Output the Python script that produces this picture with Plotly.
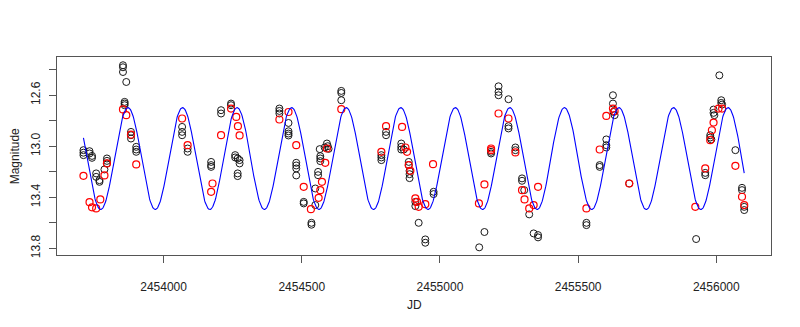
import numpy as np
import plotly.graph_objects as go

# ---- data ----
black_jd = [2453710, 2453710, 2453710, 2453732, 2453732, 2453741, 2453741,
            2453756, 2453756, 2453768, 2453768, 2453786, 2453795, 2453795, 2453795,
            2453853, 2453853, 2453853, 2453865, 2453859, 2453859, 2453859,
            2453882, 2453882, 2453882, 2453901, 2453901, 2453901,
            2454067, 2454067, 2454067, 2454087, 2454087,
            2454172, 2454172, 2454172, 2454208, 2454208, 2454244, 2454244,
            2454259, 2454259, 2454268, 2454275, 2454275, 2454268, 2454268,
            2454419, 2454419, 2454419, 2454452, 2454452, 2454452, 2454452,
            2454480, 2454480, 2454480, 2454480, 2454507, 2454507, 2454535, 2454535,
            2454549, 2454549, 2454559, 2454559, 2454567, 2454567, 2454567, 2454565,
            2454583, 2454591, 2454594, 2454597, 2454643, 2454643, 2454643,
            2454788, 2454788, 2454788, 2454805, 2454805,
            2454860, 2454860, 2454860, 2454869, 2454887, 2454887,
            2454890, 2454890, 2454890, 2454911, 2454911, 2454923, 2454947, 2454947,
            2454977, 2454977, 2455142, 2455161, 2455185, 2455185,
            2455212, 2455212, 2455212, 2455248, 2455248, 2455248, 2455273, 2455273,
            2455297, 2455297, 2455305, 2455323, 2455339, 2455355, 2455355,
            2455530, 2455530, 2455578, 2455578, 2455602, 2455602, 2455602,
            2455626, 2455626, 2455628, 2455632, 2455685, 2455927,
            2455960, 2455960, 2455978, 2455978, 2455982,
            2455990, 2455990, 2455993, 2456018, 2456018, 2456021, 2456011,
            2456069, 2456093, 2456093, 2456101, 2456101]
black_mag = [13.031, 13.051, 13.070, 13.039, 13.057, 13.076, 13.091,
             13.213, 13.240, 13.266, 13.279, 13.182, 13.096, 13.115, 13.135,
             12.366, 12.382, 12.419, 12.497, 12.653, 12.666, 12.679,
             12.888, 12.914, 12.940, 13.005, 13.026, 13.044,
             12.849, 12.888, 12.914, 13.018, 13.044,
             13.123, 13.148, 13.162, 12.718, 12.744, 12.666, 12.679,
             13.070, 13.088, 13.096, 13.109, 13.135, 13.213, 13.234,
             12.705, 12.724, 12.744, 12.818, 12.883, 12.901, 12.916,
             13.130, 13.151, 13.174, 13.229, 13.436, 13.448, 13.600, 13.615,
             13.331, 13.461, 13.201, 13.227, 13.078, 13.096, 13.117, 13.023,
             13.010, 12.979, 13.000, 13.021, 12.567, 12.583, 12.640,
             13.070, 13.088, 13.109, 12.888, 12.914,
             12.979, 13.005, 13.026, 13.026, 13.123, 13.148,
             13.193, 13.219, 13.250, 13.436, 13.469, 13.600, 13.730, 13.756,
             13.357, 13.375, 13.792, 13.672, 13.044, 13.057,
             12.531, 12.575, 12.601, 12.632, 12.843, 12.861, 13.010, 13.031,
             13.252, 13.271, 13.344, 13.534, 13.683, 13.696, 13.714,
             13.600, 13.618, 13.148, 13.162, 12.947, 12.992, 13.010,
             12.601, 12.666, 12.732, 12.757, 13.292, 13.727,
             13.209, 13.227, 12.914, 12.932, 12.947,
             12.713, 12.739, 12.757, 12.640, 12.661, 12.674, 12.445,
             13.031, 13.326, 13.344, 13.475, 13.500]

red_jd = [2453710, 2453732, 2453741, 2453756, 2453771, 2453795, 2453786,
          2453853, 2453865, 2453882, 2453901, 2454067, 2454087, 2454172, 2454177,
          2454208, 2454244, 2454263, 2454269, 2454275, 2454419, 2454452, 2454480,
          2454507, 2454533, 2454561, 2454567, 2454573, 2454585, 2454591, 2454643,
          2454788, 2454805, 2454863, 2454875, 2454881, 2454887, 2454893,
          2454911, 2454917, 2454923, 2454947, 2454975, 2455141, 2455161,
          2455185, 2455185, 2455212, 2455248, 2455273, 2455297, 2455306,
          2455323, 2455339, 2455355, 2455530, 2455578, 2455602, 2455626, 2455632,
          2455685, 2455924, 2455960, 2455978, 2455984, 2455990, 2456008, 2456021,
          2456069, 2456093, 2456101]
red_mag = [13.232, 13.438, 13.479, 13.487, 13.417, 13.135, 13.229,
           12.712, 12.757, 12.910, 13.143, 12.783, 12.992, 13.357, 13.292,
           12.914, 12.705, 12.771, 12.843, 12.916, 12.791, 12.732, 12.992,
           13.318, 13.493, 13.404, 13.344, 13.279, 13.130, 13.018, 12.710,
           13.044, 12.843, 12.849, 13.010, 13.044, 13.148, 13.193,
           13.409, 13.436, 13.475, 13.454, 13.141, 13.448, 13.299,
           13.018, 13.031, 12.744, 12.783, 13.049, 13.344, 13.417,
           13.487, 13.461, 13.318, 13.487, 13.026, 12.763, 12.705, 12.726,
           13.292, 13.475, 13.174, 12.953, 12.875, 12.815, 12.705, 12.705,
           13.154, 13.396, 13.461]

# fitted sinusoid model parameters
model_mean = 13.097
model_amp = 0.399
model_period = 197.4
model_epoch_max = 2453871.2
model_start = 2453710
model_end = 2456101

y_ticks = [12.4, 12.6, 12.8, 13.0, 13.2, 13.4, 13.6, 13.8]
y_ticktext = ["", "12.6", "", "13.0", "", "13.4", "", "13.8"]
x_ticks = [2454000, 2454500, 2455000, 2455500, 2456000]

model_jd = np.linspace(model_start, model_end, 1200)
model_mag = model_mean - model_amp * np.cos(2 * np.pi * (model_jd - model_epoch_max) / model_period)

fig = go.Figure()
fig.add_trace(go.Scatter(x=black_jd, y=black_mag, mode="markers",
                         marker=dict(symbol="circle-open", size=7, color="#1a1a1a",
                                     line=dict(width=1, color="#1a1a1a")),
                         showlegend=False))
fig.add_trace(go.Scatter(x=red_jd, y=red_mag, mode="markers",
                         marker=dict(symbol="circle-open", size=7, color="#ff0000",
                                     line=dict(width=1.2, color="#ff0000")),
                         showlegend=False))
fig.add_trace(go.Scatter(x=model_jd, y=model_mag, mode="lines",
                         line=dict(color="#0000ff", width=1.1),
                         showlegend=False))

axis_font = dict(family="Liberation Sans, Arial, sans-serif", size=12, color="#222")

fig.update_layout(
    width=800, height=327,
    margin=dict(l=57, r=29, t=57, b=72),
    paper_bgcolor="white", plot_bgcolor="white",
    font=axis_font,
    xaxis=dict(range=[2453614.3, 2456197.9], tickvals=x_ticks,
               ticktext=[str(v) for v in x_ticks],
               showgrid=False, zeroline=False, showline=True, mirror=True,
               linecolor="#555", linewidth=1, ticks="outside", ticklen=7,
               tickcolor="#555", tickfont=axis_font, ticklabelstandoff=14),
    yaxis=dict(range=[13.852, 12.3015], tickvals=y_ticks, ticktext=y_ticktext,
               showgrid=False, zeroline=False, showline=True, mirror=True,
               linecolor="#555", linewidth=1, ticks="outside", ticklen=7,
               tickcolor="#555", tickangle=-90, tickfont=axis_font,
               ticklabelstandoff=4),
    annotations=[
        dict(text="JD", xref="paper", yref="paper", x=0.5, y=-0.252,
             showarrow=False, font=axis_font, xanchor="center", yanchor="middle"),
        dict(text="Magnitude", xref="paper", yref="paper", x=-0.0584, y=0.5,
             showarrow=False, font=axis_font, textangle=-90,
             xanchor="center", yanchor="middle"),
    ],
)

fig.write_html("out.html")
